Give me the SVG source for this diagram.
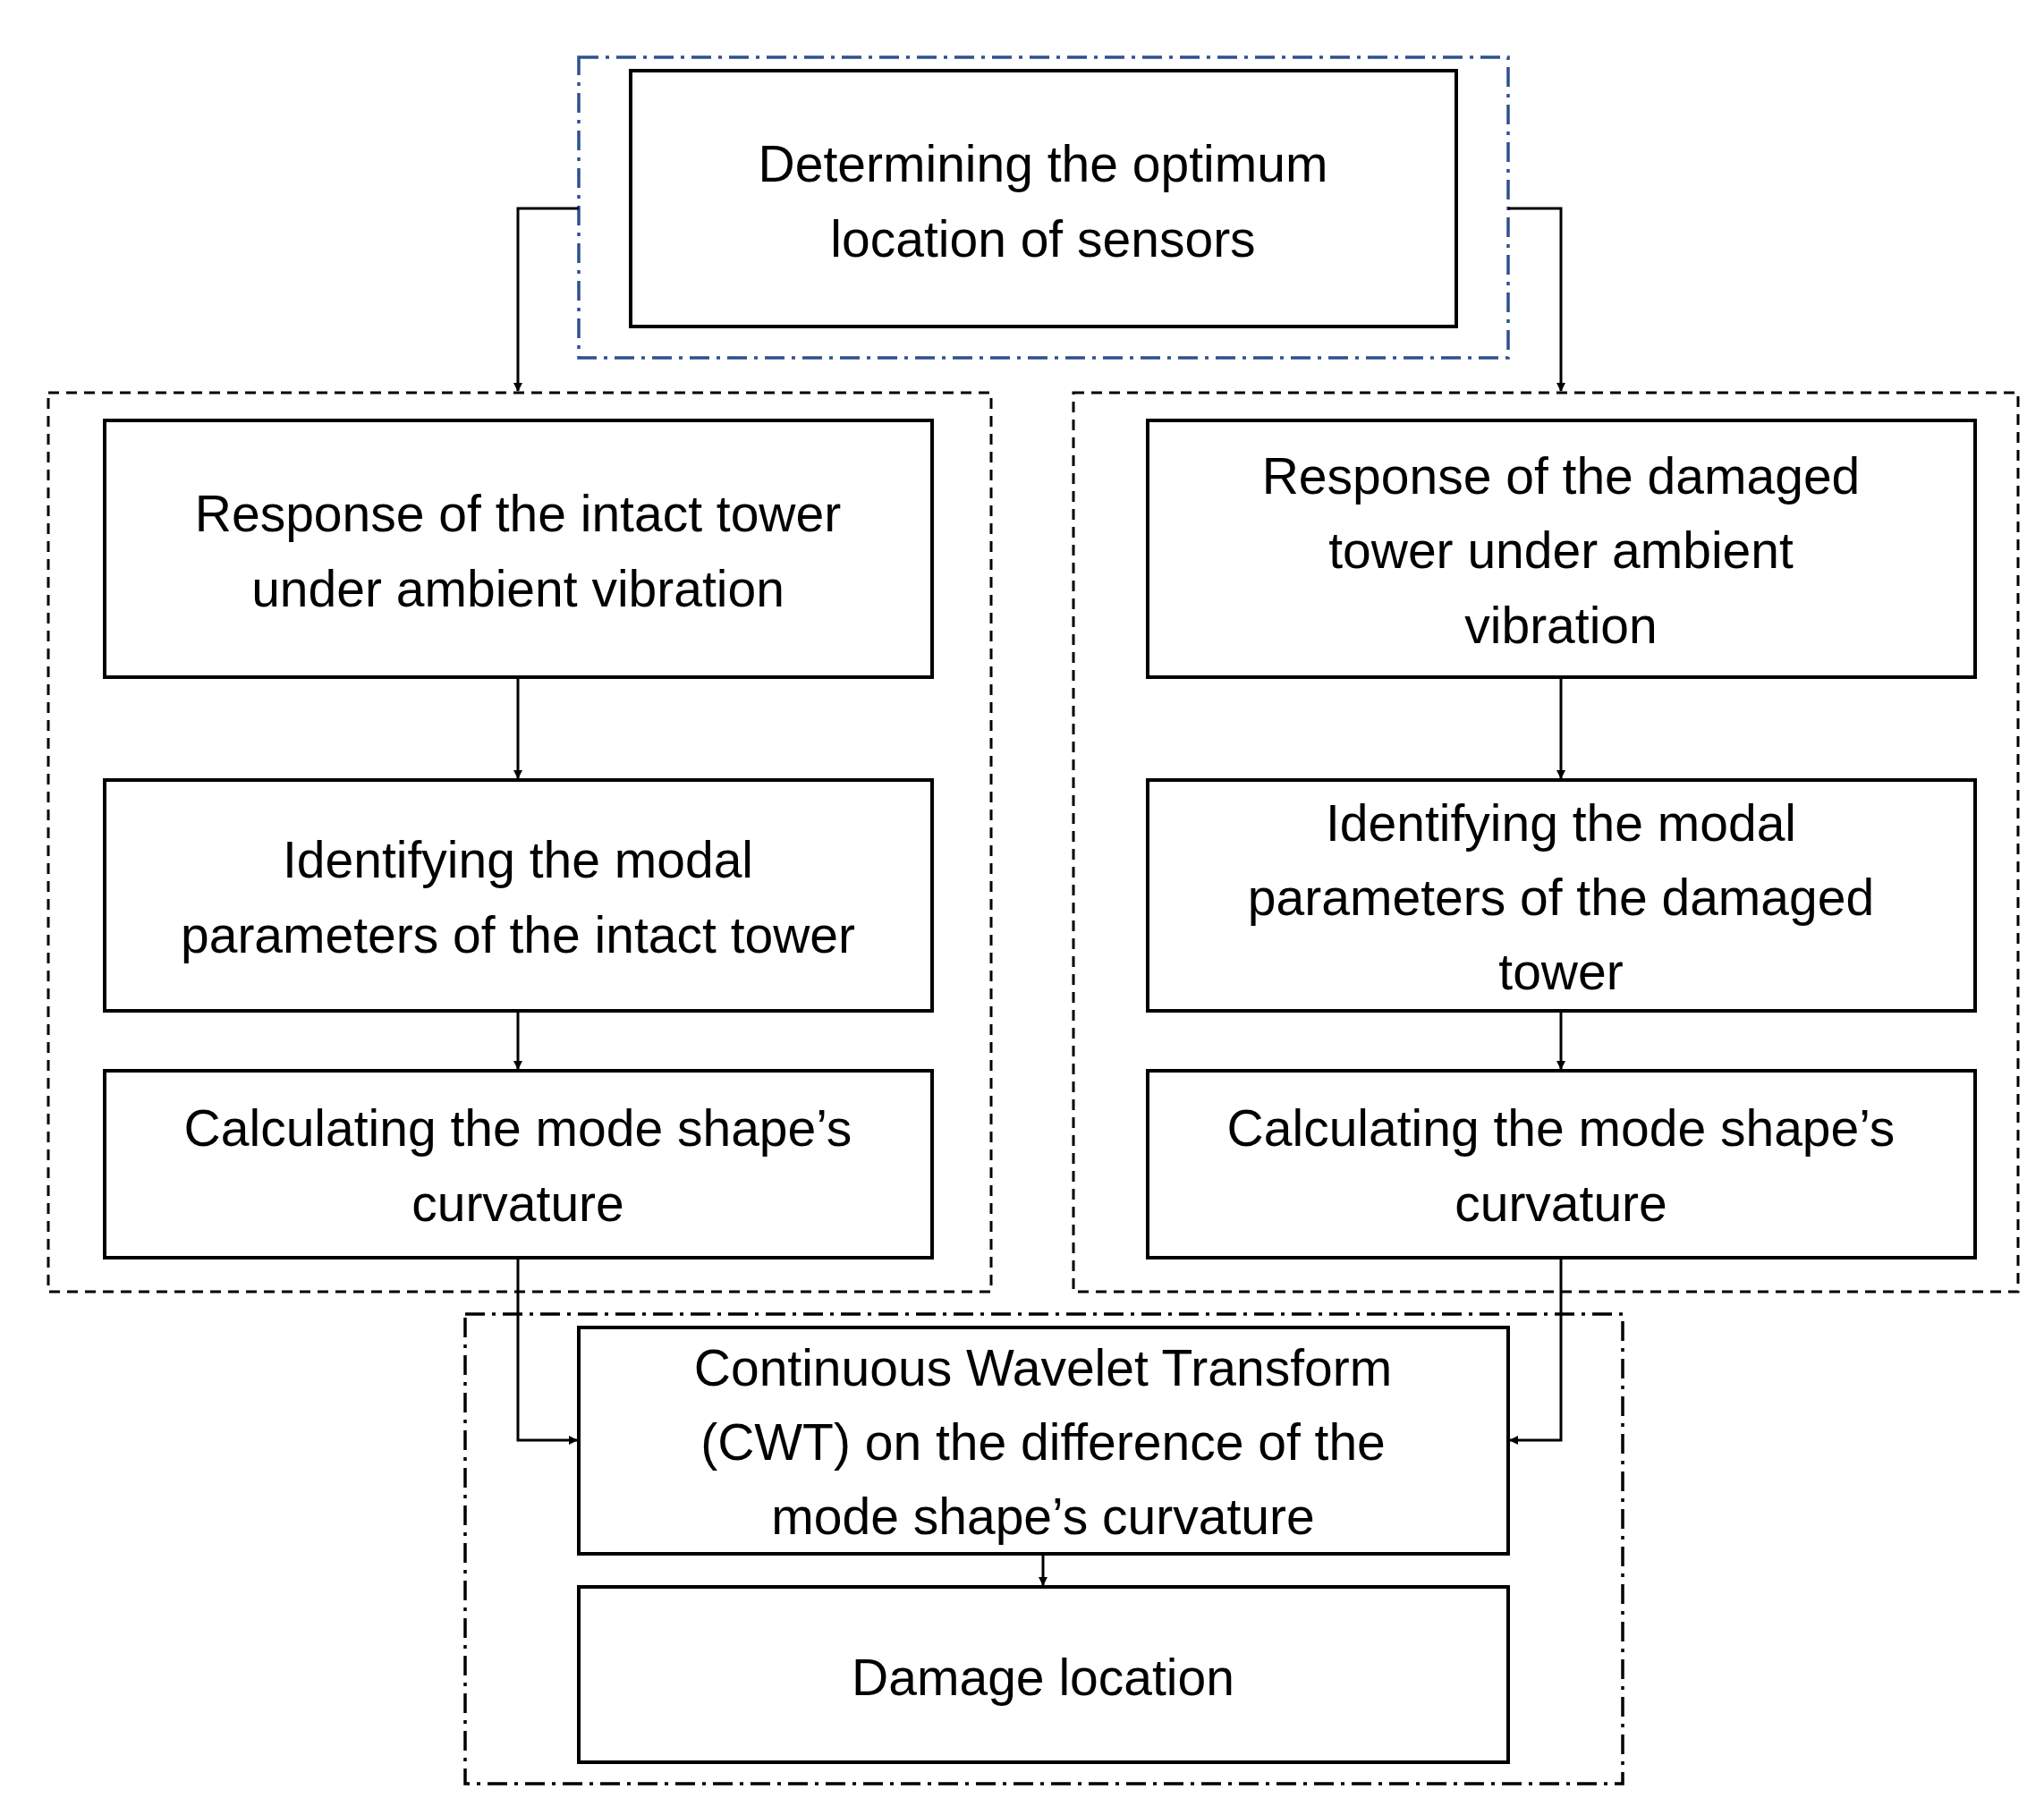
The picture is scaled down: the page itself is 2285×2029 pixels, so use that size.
<svg xmlns="http://www.w3.org/2000/svg" width="2285" height="2029" viewBox="0 0 2285 2029">
<defs>
<marker id="a" markerWidth="10" markerHeight="10" refX="9" refY="5" orient="auto" markerUnits="userSpaceOnUse"><path d="M0,0 L10,5 L0,10 z" fill="#000"/></marker>
<style>
.b{fill:#fff;stroke:#000;stroke-width:4}
.d{fill:none;stroke:#000;stroke-width:3;stroke-dasharray:12 8}
.dd{fill:none;stroke:#000;stroke-width:3.5;stroke-dasharray:22 8 4 8}
.c{fill:none;stroke:#000;stroke-width:3;marker-end:url(#a)}
text{font-family:"Liberation Sans",Arial,sans-serif;font-size:57px;text-anchor:middle;dominant-baseline:central;fill:#000}
</style>
</defs>
<rect width="2285" height="2029" fill="#fff"/>
<g id="groups">
<rect x="647" y="64" width="1039" height="336" class="dd" style="stroke:#2f4f8f"/>
<rect x="54" y="439" width="1054" height="1005" class="d"/>
<rect x="1200" y="439" width="1056" height="1005" class="d"/>
<rect x="520" y="1469" width="1294" height="525" class="dd"/>
</g>
<g id="connectors">
<path d="M647,233 H579 V437" class="c"/>
<path d="M1686,233 H1745 V437" class="c"/>
<path d="M579,757 V870" class="c"/>
<path d="M579,1130 V1195" class="c"/>
<path d="M1745,757 V870" class="c"/>
<path d="M1745,1130 V1195" class="c"/>
<path d="M579,1406 V1610 H645" class="c"/>
<path d="M1745,1406 V1610 H1688" class="c"/>
<path d="M1166,1737 V1772" class="c"/>
</g>
<g id="n1"><rect x="705" y="79" width="923" height="286" class="b"/><text x="1166" y="183">Determining the optimum</text><text x="1166" y="267">location of sensors</text></g>
<g id="n2"><rect x="117" y="470" width="925" height="287" class="b"/><text x="579" y="574">Response of the intact tower</text><text x="579" y="658">under ambient vibration</text></g>
<g id="n3"><rect x="117" y="872" width="925" height="258" class="b"/><text x="579" y="961">Identifying the modal</text><text x="579" y="1045">parameters of the intact tower</text></g>
<g id="n4"><rect x="117" y="1197" width="925" height="209" class="b"/><text x="579" y="1261">Calculating the mode shape’s</text><text x="579" y="1345">curvature</text></g>
<g id="n5"><rect x="1283" y="470" width="925" height="287" class="b"/><text x="1745" y="532">Response of the damaged</text><text x="1745" y="615">tower under ambient</text><text x="1745" y="699">vibration</text></g>
<g id="n6"><rect x="1283" y="872" width="925" height="258" class="b"/><text x="1745" y="920">Identifying the modal</text><text x="1745" y="1003">parameters of the damaged</text><text x="1745" y="1086">tower</text></g>
<g id="n7"><rect x="1283" y="1197" width="925" height="209" class="b"/><text x="1745" y="1261">Calculating the mode shape’s</text><text x="1745" y="1345">curvature</text></g>
<g id="n8"><rect x="647" y="1484" width="1039" height="253" class="b"/><text x="1166" y="1529">Continuous Wavelet Transform</text><text x="1166" y="1612">(CWT) on the difference of the</text><text x="1166" y="1695">mode shape’s curvature</text></g>
<g id="n9"><rect x="647" y="1774" width="1039" height="196" class="b"/><text x="1166" y="1875">Damage location</text></g>
</svg>
